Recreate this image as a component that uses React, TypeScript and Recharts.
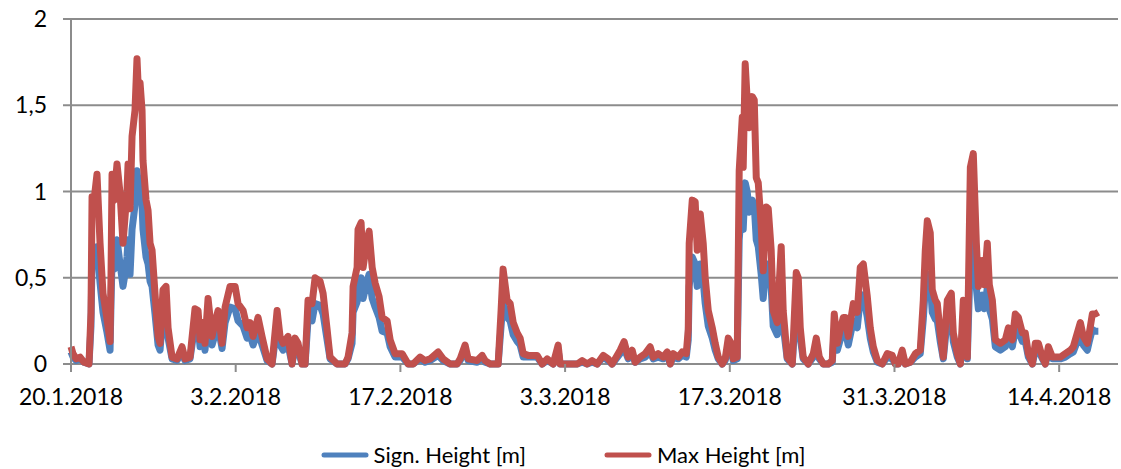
import React from 'react';
import { LineChart, Line, XAxis, YAxis, CartesianGrid, Legend } from 'recharts';

// time in days since 20.1.2018
const days = [
  0, 0.17, 0.43, 0.77, 1.11, 1.53, 1.7, 1.79, 1.96, 2.21,
  2.47, 2.72, 3.04, 3.32, 3.4, 3.49, 3.66, 3.91, 4.17, 4.42,
  4.59, 4.76, 4.85, 5.02, 5.19, 5.44, 5.61, 5.78, 5.87, 6.04,
  6.12, 6.38, 6.55, 6.72, 6.89, 7.14, 7.4, 7.57, 7.82, 8.08,
  8.25, 8.59, 9.01, 9.44, 9.69, 10.12, 10.54, 10.8, 10.97, 11.22,
  11.39, 11.65, 11.99, 12.24, 12.5, 12.84, 13.1, 13.52, 13.95, 14.2,
  14.63, 14.97, 15.22, 15.48, 15.9, 16.24, 16.67, 17.09, 17.52, 17.77,
  18.03, 18.45, 18.79, 19.05, 19.3, 19.64, 19.9, 20.15, 20.49, 20.75,
  21.17, 21.43, 21.77, 22.02, 22.62, 23.3, 23.55, 23.89, 23.98, 24.32,
  24.4, 24.66, 24.83, 25.17, 25.34, 25.6, 25.85, 26.19, 26.45, 26.87,
  27.13, 27.55, 28.15, 28.4, 28.66, 29.08, 29.68, 30.1, 30.53, 31.21,
  31.63, 32.23, 32.82, 33.08, 33.5, 33.76, 34.52, 34.95, 35.2, 35.63,
  36.31, 36.56, 36.73, 37.07, 37.33, 37.59, 37.93, 38.18, 38.44, 38.86,
  39.63, 40.05, 40.48, 40.99, 41.41, 41.58, 42.18, 43.03, 43.45, 43.88,
  44.3, 44.73, 45.24, 45.66, 46.0, 46.68, 47.02, 47.36, 47.7, 47.96,
  48.38, 48.81, 49.23, 49.49, 49.91, 50.34, 50.68, 50.94, 51.19, 51.62,
  51.96, 52.3, 52.47, 52.55, 52.81, 53.06, 53.23, 53.49, 53.74, 53.91,
  54.17, 54.51, 54.76, 55.02, 55.36, 55.61, 55.87, 56.12, 56.29, 56.63,
  56.8, 57.06, 57.14, 57.31, 57.48, 57.65, 57.91, 58.08, 58.25, 58.42,
  58.67, 58.84, 59.1, 59.27, 59.52, 59.69, 60.03, 60.37, 60.54, 60.88,
  61.31, 61.65, 61.82, 61.99, 62.24, 62.67, 63.1, 63.35, 63.61, 63.95,
  64.37, 64.71, 64.88, 65.14, 65.39, 65.65, 65.82, 66.07, 66.5, 66.84,
  67.09, 67.35, 67.69, 67.94, 68.2, 68.54, 68.96, 69.39, 69.81, 70.07,
  70.32, 70.66, 70.92, 71.34, 71.77, 72.19, 72.45, 72.62, 72.79, 73.04,
  73.21, 73.47, 73.64, 73.89, 74.15, 74.49, 74.83, 75.0, 75.34, 75.6,
  75.85, 76.02, 76.19, 76.45, 76.7, 76.96, 77.13, 77.47, 77.64, 77.89,
  78.06, 78.32, 78.57, 79.0, 79.42, 79.68, 80.02, 80.27, 80.53, 80.87,
  81.12, 81.38, 81.72, 81.97, 82.23, 82.57, 82.82, 83.08, 83.42, 83.67,
  84.1, 84.52, 84.95, 85.2, 85.54, 85.8, 86.05, 86.39, 86.56, 86.82,
  87.07, 87.33,
];

const maxHeight = [
  0.10, 0.06, 0.03, 0.04, 0.01, 0.00, 0.30, 0.97, 0.95, 1.10,
  0.70, 0.41, 0.27, 0.13, 0.50, 1.10, 0.95, 1.16, 0.99, 0.70,
  0.85, 1.00, 1.16, 0.90, 1.32, 1.47, 1.77, 1.50, 1.63, 1.47,
  1.18, 0.95, 0.89, 0.70, 0.66, 0.41, 0.16, 0.12, 0.43, 0.45,
  0.21, 0.04, 0.03, 0.10, 0.03, 0.04, 0.32, 0.31, 0.14, 0.24,
  0.12, 0.38, 0.16, 0.24, 0.31, 0.12, 0.33, 0.45, 0.45, 0.35,
  0.31, 0.21, 0.24, 0.16, 0.27, 0.16, 0.03, 0.00, 0.31, 0.16,
  0.12, 0.16, 0.00, 0.15, 0.12, 0.00, 0.00, 0.37, 0.35, 0.50,
  0.48, 0.41, 0.20, 0.04, 0.00, 0.00, 0.04, 0.18, 0.45, 0.56,
  0.78, 0.82, 0.56, 0.72, 0.77, 0.56, 0.47, 0.39, 0.27, 0.25,
  0.14, 0.06, 0.06, 0.03, 0.00, 0.00, 0.04, 0.02, 0.03, 0.07,
  0.03, 0.00, 0.00, 0.03, 0.11, 0.03, 0.02, 0.05, 0.02, 0.00,
  0.00, 0.31, 0.55, 0.37, 0.35, 0.24, 0.18, 0.15, 0.06, 0.05,
  0.05, 0.00, 0.03, 0.00, 0.11, 0.00, 0.00, 0.00, 0.02, 0.00,
  0.02, 0.00, 0.05, 0.03, 0.00, 0.08, 0.13, 0.04, 0.08, 0.01,
  0.04, 0.06, 0.10, 0.04, 0.06, 0.04, 0.07, 0.00, 0.06, 0.04,
  0.07, 0.06, 0.20, 0.70, 0.95, 0.94, 0.66, 0.87, 0.70, 0.50,
  0.31, 0.21, 0.12, 0.04, 0.00, 0.03, 0.15, 0.12, 0.03, 0.04,
  1.12, 1.43, 1.14, 1.74, 1.53, 1.37, 1.55, 1.53, 1.08, 1.05,
  0.80, 0.54, 0.91, 0.90, 0.66, 0.31, 0.24, 0.68, 0.31, 0.04,
  0.00, 0.53, 0.50, 0.21, 0.04, 0.00, 0.06, 0.15, 0.04, 0.00,
  0.00, 0.02, 0.29, 0.12, 0.20, 0.27, 0.27, 0.16, 0.35, 0.30,
  0.56, 0.58, 0.39, 0.21, 0.10, 0.02, 0.00, 0.06, 0.05, 0.00,
  0.00, 0.08, 0.00, 0.01, 0.06, 0.08, 0.37, 0.66, 0.83, 0.76,
  0.43, 0.37, 0.35, 0.18, 0.04, 0.37, 0.41, 0.18, 0.06, 0.00,
  0.37, 0.35, 0.04, 1.14, 1.22, 0.70, 0.45, 0.60, 0.46, 0.70,
  0.46, 0.37, 0.14, 0.12, 0.14, 0.21, 0.14, 0.29, 0.27, 0.18,
  0.18, 0.06, 0.00, 0.12, 0.12, 0.04, 0.00, 0.10, 0.04, 0.04,
  0.04, 0.06, 0.08, 0.10, 0.18, 0.24, 0.16, 0.12, 0.18, 0.29,
  0.29, 0.30,
];

const signHeight = [
  0.07, 0.04, 0.02, 0.03, 0.01, 0.00, 0.22, 0.62, 0.58, 0.68,
  0.47, 0.30, 0.19, 0.08, 0.35, 0.60, 0.55, 0.72, 0.58, 0.45,
  0.52, 0.62, 0.72, 0.52, 0.78, 0.92, 1.12, 1.00, 1.05, 0.92,
  0.78, 0.62, 0.58, 0.48, 0.45, 0.29, 0.11, 0.08, 0.30, 0.32,
  0.15, 0.03, 0.02, 0.07, 0.02, 0.03, 0.23, 0.22, 0.10, 0.17,
  0.08, 0.27, 0.11, 0.17, 0.22, 0.09, 0.24, 0.33, 0.32, 0.25,
  0.22, 0.15, 0.17, 0.11, 0.19, 0.11, 0.02, 0.00, 0.22, 0.11,
  0.08, 0.11, 0.00, 0.10, 0.08, 0.00, 0.00, 0.26, 0.25, 0.35,
  0.34, 0.29, 0.14, 0.03, 0.00, 0.00, 0.03, 0.12, 0.30, 0.36,
  0.45, 0.50, 0.38, 0.48, 0.52, 0.38, 0.33, 0.27, 0.19, 0.18,
  0.10, 0.04, 0.04, 0.02, 0.00, 0.00, 0.03, 0.01, 0.02, 0.05,
  0.02, 0.00, 0.00, 0.02, 0.08, 0.02, 0.01, 0.04, 0.01, 0.00,
  0.00, 0.22, 0.36, 0.27, 0.25, 0.17, 0.13, 0.11, 0.04, 0.04,
  0.04, 0.00, 0.02, 0.00, 0.08, 0.00, 0.00, 0.00, 0.01, 0.00,
  0.01, 0.00, 0.04, 0.02, 0.00, 0.06, 0.09, 0.03, 0.06, 0.01,
  0.03, 0.04, 0.07, 0.03, 0.04, 0.03, 0.05, 0.00, 0.04, 0.03,
  0.05, 0.04, 0.14, 0.45, 0.62, 0.58, 0.45, 0.58, 0.48, 0.35,
  0.22, 0.15, 0.08, 0.03, 0.00, 0.02, 0.10, 0.08, 0.02, 0.03,
  0.72, 0.95, 0.78, 1.05, 1.00, 0.88, 0.95, 0.92, 0.72, 0.68,
  0.52, 0.38, 0.58, 0.58, 0.44, 0.22, 0.17, 0.44, 0.22, 0.03,
  0.00, 0.36, 0.34, 0.15, 0.03, 0.00, 0.04, 0.10, 0.03, 0.00,
  0.00, 0.01, 0.20, 0.08, 0.14, 0.19, 0.19, 0.11, 0.25, 0.21,
  0.38, 0.40, 0.27, 0.15, 0.07, 0.01, 0.00, 0.04, 0.03, 0.00,
  0.00, 0.06, 0.00, 0.01, 0.04, 0.06, 0.26, 0.44, 0.52, 0.48,
  0.30, 0.26, 0.25, 0.13, 0.03, 0.26, 0.29, 0.13, 0.04, 0.00,
  0.26, 0.25, 0.03, 0.62, 0.72, 0.44, 0.32, 0.40, 0.32, 0.44,
  0.32, 0.26, 0.10, 0.08, 0.10, 0.15, 0.10, 0.20, 0.19, 0.13,
  0.13, 0.04, 0.00, 0.08, 0.08, 0.03, 0.00, 0.07, 0.03, 0.03,
  0.03, 0.04, 0.06, 0.07, 0.13, 0.17, 0.11, 0.08, 0.13, 0.20,
  0.19, 0.19,
];

const xTicks = [0, 14, 28, 42, 56, 70, 84];
const xTickLabels = ['20.1.2018', '3.2.2018', '17.2.2018', '3.3.2018', '17.3.2018', '31.3.2018', '14.4.2018'];
const yTicks = [0, 0.5, 1, 1.5, 2];

const BLUE = '#4F81BD';
const RED = '#C0504D';
const GRID = '#8C8C8C';
const FONT = 'Lato, "Open Sans", sans-serif';

const data = days.map((d, i) => ({ day: d, sign: signHeight[i], max: maxHeight[i] }));

const renderLegend = () => (
  <div
    style={{
      display: 'flex',
      justifyContent: 'center',
      alignItems: 'flex-start',
      height: 50,
      paddingTop: 23,
      boxSizing: 'border-box',
      fontFamily: FONT,
      fontSize: 22,
      lineHeight: '26px',
      color: '#000',
    }}
  >
    <div style={{ display: 'flex', alignItems: 'center', marginRight: 78 }}>
      <svg width={48} height={8} style={{ marginRight: 5 }}>
        <line x1={3} y1={4} x2={45} y2={4} stroke={BLUE} strokeWidth={5} strokeLinecap="round" />
      </svg>
      <span>Sign. Height [m]</span>
    </div>
    <div style={{ display: 'flex', alignItems: 'center' }}>
      <svg width={48} height={8} style={{ marginRight: 5 }}>
        <line x1={3} y1={4} x2={45} y2={4} stroke={RED} strokeWidth={5} strokeLinecap="round" />
      </svg>
      <span>Max Height [m]</span>
    </div>
  </div>
);

const App = () => (
  <div style={{ position: 'absolute', left: 0, top: 0, width: 1121, height: 469, background: '#fff' }}>
    <LineChart width={1121} height={469} data={data} margin={{ top: 19, right: 3, bottom: 0, left: 8 }}>
      <CartesianGrid vertical={false} stroke={GRID} strokeWidth={2} />
      <XAxis
        dataKey="day"
        type="number"
        domain={[0, 89]}
        ticks={xTicks}
        interval={0}
        tickFormatter={(v) => xTickLabels[xTicks.indexOf(v)]}
        axisLine={false}
        tickLine={{ stroke: GRID, strokeWidth: 2 }}
        tickSize={8}
        tickMargin={17}
        height={55}
        tick={{ fill: '#000', fontSize: 23, fontFamily: FONT }}
      />
      <YAxis
        type="number"
        domain={[0, 2]}
        ticks={yTicks}
        interval={0}
        tickFormatter={(v) => String(v).replace('.', ',')}
        axisLine={{ stroke: GRID, strokeWidth: 2 }}
        tickLine={{ stroke: GRID, strokeWidth: 2 }}
        tickSize={8}
        tickMargin={16}
        width={63}
        tick={{ fill: '#000', fontSize: 23, fontFamily: FONT }}
      />
      <Legend verticalAlign="bottom" content={renderLegend} />
      <Line type="linear" dataKey="sign" stroke={BLUE} strokeWidth={7} dot={false} strokeLinejoin="round" isAnimationActive={false} />
      <Line type="linear" dataKey="max" stroke={RED} strokeWidth={7} dot={false} strokeLinejoin="round" isAnimationActive={false} />
    </LineChart>
  </div>
);

export default App;
